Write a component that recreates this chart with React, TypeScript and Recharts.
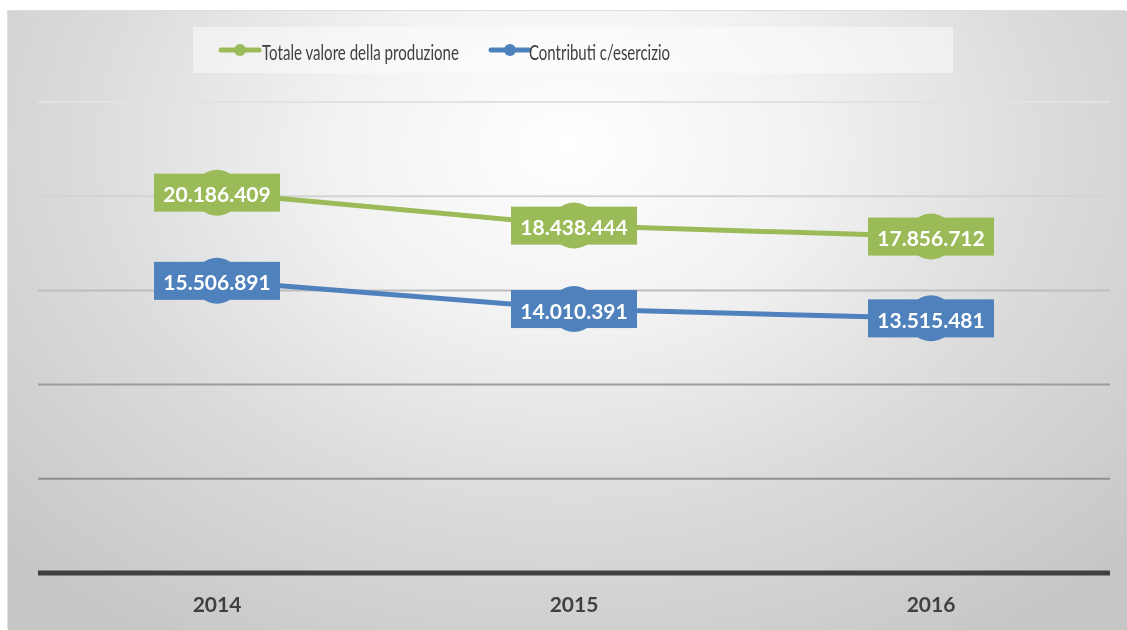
import React from 'react';
import { LineChart, Line, XAxis, YAxis, Legend, ReferenceLine } from 'recharts';

const years = ['2014', '2015', '2016'];
const produzione = [20186409, 18438444, 17856712];
const contributi = [15506891, 14010391, 13515481];
const seriesNames = ['Totale valore della produzione', 'Contributi c/esercizio'];
const gridValues = [5000000, 10000000, 15000000, 20000000, 25000000];
const gridColors = ['#8f8f8f', '#9c9c9c', '#bdbdbd', '#d3d3d3', '#e2e2e2'];

const GREEN = '#9BBB59';
const BLUE = '#4F81BD';

const data = years.map((y, i) => ({ year: y, produzione: produzione[i], contributi: contributi[i] }));

const fmt = (v: number) => String(Math.round(v)).replace(/\B(?=(\d{3})+(?!\d))/g, '.');

const FONT = 'Lato, "Open Sans", sans-serif';

const makeDot = (color: string) => (props: any) => {
  const { cx, cy, index } = props;
  if (cx == null || cy == null) return <g key={index} />;
  return <circle key={index} cx={cx} cy={cy} r={23} fill={color} />;
};

const makeLabel = (color: string) => (props: any) => {
  const { x, y, value, index } = props;
  if (x == null || y == null) return null;
  return (
    <g key={index}>
      <rect x={x - 63} y={y - 19} width={126} height={38} fill={color} />
      <text
        x={x}
        y={y + 1}
        textAnchor="middle"
        dominantBaseline="central"
        fill="#ffffff"
        fontFamily={FONT}
        fontWeight={700}
        fontSize={21}
      >
        {fmt(Number(value))}
      </text>
    </g>
  );
};

const legendLayout = [
  { lineX: 28, textX: 69, textLen: 197 },
  { lineX: 298, textX: 336, textLen: 141 },
];

const LegendContent = (props: any) => {
  const payload = [...(props.payload || [])].sort(
    (a: any, b: any) => seriesNames.indexOf(a.value) - seriesNames.indexOf(b.value)
  );
  return (
    <svg width={760} height={46} style={{ display: 'block' }}>
      <rect x={0} y={0} width={760} height={46} fill="#ffffff" fillOpacity={0.45} />
      {payload.map((p: any, i: number) => {
        const idx = seriesNames.indexOf(p.value);
        const l = legendLayout[idx >= 0 ? idx : i] || legendLayout[0];
        return (
          <g key={i}>
            <line x1={l.lineX} y1={23} x2={l.lineX + 38} y2={23} stroke={p.color} strokeWidth={5} strokeLinecap="round" />
            <circle cx={l.lineX + 19} cy={23} r={6} fill={p.color} />
            <text
              x={l.textX}
              y={24}
              dominantBaseline="central"
              fill="#404040"
              fontFamily={FONT}
              fontSize={21}
              textLength={l.textLen}
              lengthAdjust="spacingAndGlyphs"
            >
              {p.value}
            </text>
          </g>
        );
      })}
    </svg>
  );
};

export default function App() {
  return (
    <div
      style={{
        position: 'fixed',
        left: 8,
        top: 11,
        width: 1119,
        height: 619,
        background:
          'radial-gradient(ellipse 70% 95% at 50% 22%, #ffffff 0%, #f2f2f2 30%, #dbdbdb 62%, #c6c6c6 100%)',
        boxShadow: '-1px -1px 0 #dedede',
      }}
    >
      <LineChart width={1119} height={619} data={data} margin={{ top: 91, right: 17, bottom: 0, left: 30 }}>
        <YAxis hide domain={[0, 25000000]} ticks={gridValues} />
        {gridValues.map((v, i) => (
          <ReferenceLine key={v} y={v} stroke={gridColors[i]} strokeWidth={2} ifOverflow="extendDomain" />
        ))}
        <XAxis
          dataKey="year"
          height={57}
          padding={{ left: 179, right: 179 }}
          axisLine={{ stroke: '#404040', strokeWidth: 5 }}
          tickLine={false}
          tickSize={0}
          tickMargin={24}
          tick={{ fill: '#404040', fontFamily: FONT, fontWeight: 700, fontSize: 21 }}
        />
        <Legend
          layout="horizontal"
          verticalAlign="middle"
          align="center"
          wrapperStyle={{ position: 'absolute', left: 185, top: 16, width: 760, height: 46 }}
          content={<LegendContent />}
        />
        <Line
          type="linear"
          dataKey="produzione"
          name={seriesNames[0]}
          stroke={GREEN}
          strokeWidth={5}
          dot={makeDot(GREEN)}
          activeDot={false}
          label={makeLabel(GREEN)}
          isAnimationActive={false}
        />
        <Line
          type="linear"
          dataKey="contributi"
          name={seriesNames[1]}
          stroke={BLUE}
          strokeWidth={5}
          dot={makeDot(BLUE)}
          activeDot={false}
          label={makeLabel(BLUE)}
          isAnimationActive={false}
        />
      </LineChart>
    </div>
  );
}
